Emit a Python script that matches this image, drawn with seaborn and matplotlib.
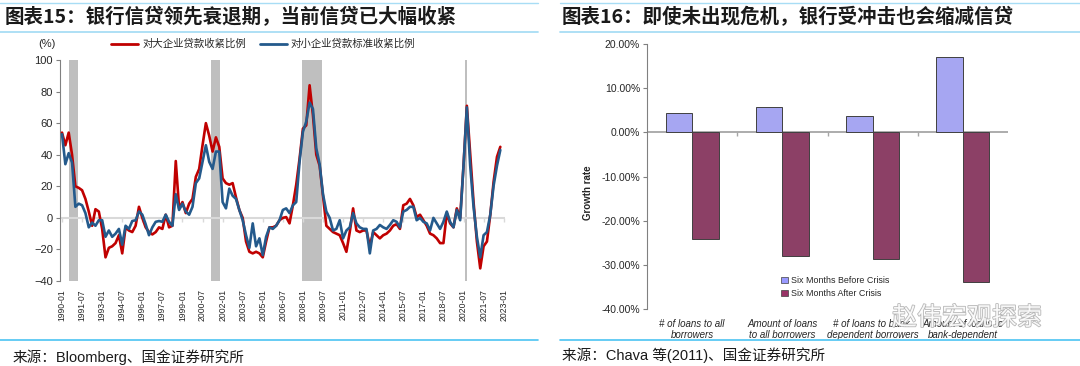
import pandas as pd
import seaborn as sns
import matplotlib.pyplot as plt
import matplotlib.patheffects as pe
from matplotlib.lines import Line2D
from matplotlib.patches import Patch
from matplotlib.ticker import FuncFormatter

sns.set_theme(style="white")
plt.rcParams['font.family'] = ['Liberation Sans', 'Noto Sans CJK SC']

# ---- left chart: quarterly tightening share, 1990Q1 onwards
large_firms = [54, 46, 54, 40, 20, 19, 17.5, 12, 4, -5,
               5.5, 4, -7, -25, -19, -18, -16, -11, -22.5, -6,
               -8, -9, -5, 7, 0, -6, -9, -10.5, -9, -6,
               -7, 2, -6, -5, 36, 6, 10, 3, 9, 12,
               26, 31, 46, 60, 52, 42, 51, 45, 25, 22,
               21, 22, 13, 5, 0, -15, -21.5, -22.5, -21.5, -22.5,
               -25, -15, -6, -6, -5, -1.5, 0, 0.5, -3.5, 8,
               21, 37.5, 56.5, 58.6, 84, 65, 40, 33, 14, -5,
               -7, -9, -10, -11, -16, -21.5, -9, 6, -8, -9,
               -8, -8, -18, -9, -11, -13, -11, -10, -8, -5,
               -4, -7, 8, 9, 12, 8, 0.5, 2, -1.5, -5,
               -10, -11, -13, -16, -16, 3, -3.5, -6, 6, 0,
               33, 71, 40, 10, -15, -32, -18, -15, 2, 23, 38.6, 45]
small_firms = [53, 34, 41, 35, 7, 9, 8, 3, -6, -3,
               -5, -1.5, -1.5, -12, -8, -12, -10, -7, -17, -5,
               -7, -2, -1.5, 4, 2, -4, -11, -6, -2.5, -2,
               -2.5, 2, -2.5, -5, 15, 5, 9, 4, 2, 7,
               22, 25, 35.5, 46, 35.5, 31, 42, 42, 10, 6,
               18.5, 14, 12, 5, -1.5, -11, -19, -3.5, -18, -13,
               -23.6, -12, -6, -7, -5, -1.5, 5, 6, 3, 8,
               10, 35.5, 54.5, 61, 73, 69, 44, 34, 15, 4,
               0, -8, -7, -1.5, -13, -8, -6, 3, -3.5, -6,
               -7, -7, -22.5, -8, -7, -4.5, -6, -7, -4.5, -1.5,
               -2.5, -6, 4, 5, 7, 7, -1.5, 0, -2.5, -3.5,
               -8, 0, -3.5, -7, -2.5, 4, -2.5, -6, 5, -1.5,
               33, 70, 33, 7, -12, -25, -11, -9, 2, 20.5, 33, 43]
name_large = '对大企业贷款收紧比例'
name_small = '对小企业贷款标准收紧比例'

rec_start = ['1990-07', '2001-03', '2007-12', '2020-02']
rec_end = ['1991-03', '2001-11', '2009-06', '2020-04']

tick_labels = ['1990-01', '1991-07', '1993-01', '1994-07', '1996-01', '1997-07',
               '1999-01', '2000-07', '2002-01', '2003-07', '2005-01', '2006-07',
               '2008-01', '2009-07', '2011-01', '2012-07', '2014-01', '2015-07',
               '2017-01', '2018-07', '2020-01', '2021-07', '2023-01']

# ---- right chart
categories = ['# of loans to all\nborrowers', 'Amount of loans\nto all borrowers',
              '# of loans to bank-\ndependent borrowers', 'Amount of loans to\nbank-dependent']
before_crisis = [4.4, 5.65, 3.75, 17.0]
after_crisis = [-24.2, -27.9, -28.7, -33.8]
period_names = ['Six Months Before Crisis', 'Six Months After Crisis']


def to_q(s):
    # month string -> quarter index from 1990-01
    y, m = s.split('-')
    return ((int(y) - 1990) * 12 + int(m) - 1) / 3


W, H = 1080, 366
fig = plt.figure(figsize=(W / 100, H / 100), dpi=100)

# left panel
lines = pd.DataFrame({
    'q': list(range(len(large_firms))) * 2,
    'val': large_firms + small_firms,
    'series': [name_large] * len(large_firms) + [name_small] * len(small_firms),
})
red, blue = '#C00000', '#245A8C'

ax1 = fig.add_axes([60 / W, 1 - 281 / H, 445 / W, 221 / H])
for s, e in zip(rec_start, rec_end):
    ax1.axvspan(to_q(s), to_q(e), color='#BFBFBF', lw=0, zorder=0)
ax1.axhline(0, color='#D9D9D9', lw=1.5, zorder=1)
tick_q = [to_q(t) for t in tick_labels]
ax1.plot(tick_q, [0] * len(tick_q), ls='none', marker=3, ms=3, mew=1, color='#D9D9D9', zorder=1)
sns.lineplot(data=lines, x='q', y='val', hue='series', hue_order=[name_large, name_small],
             palette=[red, blue], lw=1.9, legend=False, ax=ax1, zorder=3)
ax1.set_xlim(-0.6, 132.4)
ax1.set_ylim(-40, 100)
ax1.set_yticks(range(-40, 101, 20))
ax1.set_xticks(tick_q, tick_labels, rotation=90)
ax1.set_xlabel('')
ax1.set_ylabel('')
for sp in ['top', 'right', 'bottom']:
    ax1.spines[sp].set_visible(False)
ax1.spines['left'].set_color('#808080')
ax1.spines['left'].set_linewidth(0.8)
ax1.tick_params(axis='y', left=True, length=3, width=0.8, color='#808080',
                labelsize=8, labelcolor='#262626', pad=2)
ax1.tick_params(axis='x', bottom=False, length=0, labelsize=6.2, labelcolor='#262626', pad=6)

fig.text(47 / W, 1 - 44 / H, '(%)', fontsize=8, color='#262626', ha='center', va='center')
fig.legend(handles=[Line2D([], [], color=red, lw=2), Line2D([], [], color=blue, lw=2)],
           labels=[name_large, name_small], loc='center left',
           bbox_to_anchor=(111 / W, 1 - 44 / H), ncol=2, frameon=False, fontsize=7.5,
           handlelength=2.6, handletextpad=0.4, columnspacing=1.3, borderpad=0, borderaxespad=0)

# right panel
bars = pd.DataFrame({
    'cat': categories * 2,
    'val': before_crisis + after_crisis,
    'period': [period_names[0]] * 4 + [period_names[1]] * 4,
})
ax2 = fig.add_axes([647 / W, 1 - 309 / H, 361 / W, 265 / H])
ax2.axhline(0, color='#A6A6A6', lw=1.3, zorder=1)
sns.barplot(data=bars, x='cat', y='val', hue='period', hue_order=period_names,
            palette=['#9999FF', '#993366'], width=0.59, errorbar=None,
            edgecolor='#404040', linewidth=0.7, legend=False, ax=ax2, zorder=2)
ax2.plot([0.5, 1.5, 2.5], [0, 0, 0], ls='none', marker=3, ms=3, mew=1, color='#A6A6A6')
ax2.set_xlim(-0.5, 3.5)
ax2.set_ylim(-40, 20)
ax2.set_yticks(range(-40, 21, 10))
ax2.yaxis.set_major_formatter(FuncFormatter(lambda v, p: f'{v:.2f}%'))
ax2.set_xlabel('')
ax2.set_ylabel('Growth rate', fontsize=7, fontweight='bold', color='#262626')
ax2.yaxis.set_label_coords(-0.15, 0.44)
for sp in ['top', 'right', 'bottom']:
    ax2.spines[sp].set_visible(False)
ax2.spines['left'].set_color('#808080')
ax2.spines['left'].set_linewidth(0.8)
ax2.tick_params(axis='y', left=True, length=3, width=0.8, color='#808080',
                labelsize=7.5, labelcolor='#262626', pad=2)
ax2.tick_params(axis='x', bottom=False, length=0, labelsize=7, labelcolor='#262626', pad=7)
for t in ax2.get_xticklabels():
    t.set_fontstyle('italic')
ax2.legend(handles=[Patch(facecolor='#9999FF', edgecolor='#404040', lw=0.5),
                    Patch(facecolor='#993366', edgecolor='#404040', lw=0.5)],
           labels=period_names, loc='upper left', bbox_to_anchor=((781 - 647) / 361, (309 - 276) / 265),
           frameon=False, fontsize=6.4, handlelength=0.8, handleheight=0.8,
           handletextpad=0.3, labelspacing=0.45, borderpad=0, borderaxespad=0)

# titles, rules and sources
title_kw = dict(fontsize=14, fontweight='bold', color='#1A1A1A', va='center',
                family=['Noto Sans CJK SC'])
fig.text(5 / W, 1 - 17 / H, '图表15：银行信贷领先衰退期，当前信贷已大幅收紧', **title_kw)
fig.text(562 / W, 1 - 17 / H, '图表16：即使未出现危机，银行受冲击也会缩减信贷', **title_kw)

for x0, x1 in [(0, 538), (560, 1080)]:
    fig.add_artist(Line2D([x0 / W, x1 / W], [1 - 3 / H] * 2, color='#A8DDF5', lw=1))
    fig.add_artist(Line2D([x0 / W, x1 / W], [1 - 32 / H] * 2, color='#A8DDF5', lw=1.3))
    fig.add_artist(Line2D([x0 / W, x1 / W], [1 - 340 / H] * 2, color='#4CC3F2', lw=1.2))

src_kw = dict(fontsize=10.5, color='#1A1A1A', va='center')
fig.text(13 / W, 1 - 357 / H, '来源：Bloomberg、国金证券研究所', **src_kw)
fig.text(562 / W, 1 - 355 / H, '来源：Chava 等(2011)、国金证券研究所', **src_kw)

fig.text(967 / W, 1 - 318 / H, '赵伟宏观探索', fontsize=18, color='white', ha='center', va='center',
         family=['Noto Sans CJK SC'], alpha=0.9,
         path_effects=[pe.withStroke(linewidth=1.2, foreground='#B0B0B0')])

fig.savefig('out.png', dpi=100)
